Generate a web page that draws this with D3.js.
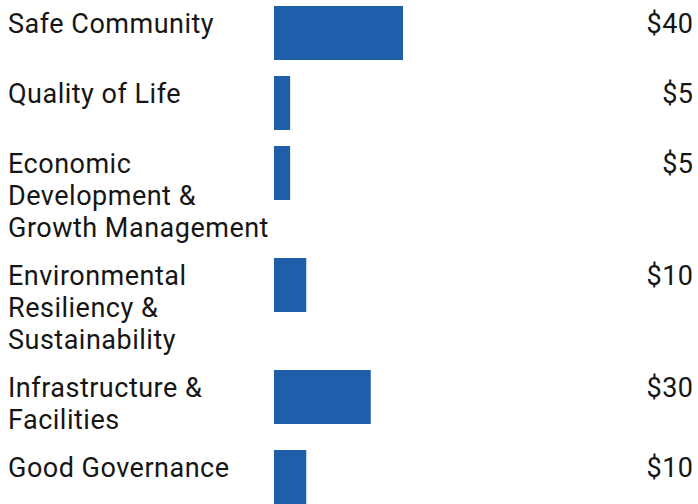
<!DOCTYPE html>
<html>
<head>
<meta charset="utf-8">
<script src="https://cdn.jsdelivr.net/npm/d3@7"></script>
<style>
  body { margin: 0; background: #fff; }
  text { font-family: Roboto, "Noto Sans", sans-serif; fill: #161616; letter-spacing: 0.5px; }
</style>
</head>
<body>
<div id="chart"></div>
<script>
// data
var categories = ["Safe Community", "Quality of Life", "Economic Development & Growth Management",
  "Environmental Resiliency & Sustainability", "Infrastructure & Facilities", "Good Governance"];
var labelLines = [
  ["Safe Community"],
  ["Quality of Life"],
  ["Economic", "Development &", "Growth Management"],
  ["Environmental", "Resiliency &", "Sustainability"],
  ["Infrastructure &", "Facilities"],
  ["Good Governance"]
];
var amounts = [40, 5, 5, 10, 30, 10];

var svgWidth = 698, svgHeight = 504;
var barLeft = 274, barH = 54, lineH = 32, gap = 16, topPad = 6;

var svg = d3.select("#chart").append("svg")
  .attr("width", svgWidth)
  .attr("height", svgHeight);

var x = d3.scaleLinear().domain([0, 40]).range([barLeft, 403]);

// rows grow with the number of label lines
var rows = [];
var rowY = topPad;
categories.forEach(function(c, i) {
  rows.push({ name: c, lines: labelLines[i], value: amounts[i], y: rowY });
  rowY += Math.max(barH, labelLines[i].length * lineH) + gap;
});

var g = svg.selectAll("g.row")
  .data(rows)
  .enter()
  .append("g")
  .attr("class", "row")
  .attr("transform", d => `translate(0, ${d.y})`);

g.append("rect")
  .attr("x", x(0))
  .attr("y", 0)
  .attr("width", d => x(d.value) - x(0))
  .attr("height", barH)
  .attr("fill", "#1f5eab");

g.append("text")
  .attr("x", 8)
  .attr("y", 27)
  .attr("font-size", 27)
  .selectAll("tspan")
  .data(d => d.lines)
  .enter()
  .append("tspan")
  .attr("x", 8)
  .attr("dy", (d, i) => i == 0 ? 0 : lineH)
  .text(d => d);

g.append("text")
  .attr("x", 693.5)
  .attr("y", 27)
  .attr("font-size", 27)
  .attr("text-anchor", "end")
  .text(d => "$" + d.value);
</script>
</body>
</html>
